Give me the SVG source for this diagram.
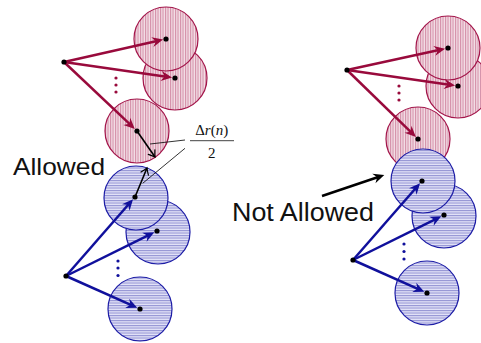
<svg xmlns="http://www.w3.org/2000/svg" width="481" height="343" viewBox="0 0 481 343">
<defs>
<pattern id="vred" patternUnits="userSpaceOnUse" width="2.5" height="4">
<rect width="2.5" height="4" fill="#f3e0e7"/>
<rect x="0" width="1.1" height="4" fill="#d48ea8"/>
</pattern>
<pattern id="hblue" patternUnits="userSpaceOnUse" width="4" height="2.5">
<rect width="4" height="2.5" fill="#e4e4f8"/>
<rect y="0" width="4" height="1.1" fill="#9494d4"/>
</pattern>
<marker id="hr" markerUnits="userSpaceOnUse" viewBox="-12 -6 14 12" markerWidth="14" markerHeight="12" refX="-4" refY="0" orient="auto">
<path d="M0,0 L-11,-5 L-7.5,0 L-11,5 Z" fill="#990a3c"/>
</marker>
<marker id="hb" markerUnits="userSpaceOnUse" viewBox="-12 -6 14 12" markerWidth="14" markerHeight="12" refX="-4" refY="0" orient="auto">
<path d="M0,0 L-11,-5 L-7.5,0 L-11,5 Z" fill="#10109c"/>
</marker>
<marker id="hk" markerUnits="userSpaceOnUse" viewBox="-12 -6 14 12" markerWidth="14" markerHeight="12" refX="-4" refY="0" orient="auto">
<path d="M0,0 L-11,-5 L-7.5,0 L-11,5 Z" fill="#000"/>
</marker>
<marker id="ho" markerUnits="userSpaceOnUse" viewBox="-8 -6 10 12" markerWidth="10" markerHeight="12" refX="0" refY="0" orient="auto">
<path d="M-6,-4 Q-2,-1 0,0 Q-2,1 -6,4" fill="none" stroke="#000" stroke-width="1.2" stroke-linecap="round"/>
</marker>
</defs>
<style>
.rc{fill:url(#vred);stroke:#a3154a;stroke-width:1.2}
.bc{fill:url(#hblue);stroke:#1c1ca6;stroke-width:1.2}
.ra{stroke:#990a3c;stroke-width:2.5;fill:none;marker-end:url(#hr)}
.ba{stroke:#10109c;stroke-width:2.5;fill:none;marker-end:url(#hb)}
.dot{fill:#000}
.rd{fill:#990a3c}
.bd{fill:#10109c}
.lbl{font-family:"Liberation Sans",Arial,sans-serif;fill:#111}
.math{font-family:"Liberation Serif","Times New Roman",serif;font-size:15px;fill:#111}
.lead{stroke:#000;stroke-width:0.8;fill:none}
</style>

<g id="left-red-circles">
<circle class="rc" cx="175" cy="78" r="32"/>
<circle class="rc" cx="166" cy="39" r="32"/>
<circle class="rc" cx="137" cy="131" r="32"/>
</g>
<g id="left-blue-circles">
<circle class="bc" cx="158" cy="232" r="32"/>
<circle class="bc" cx="136" cy="198" r="32"/>
<circle class="bc" cx="140" cy="309" r="32"/>
</g>
<g id="right-red-circles">
<circle class="rc" cx="458" cy="86" r="32"/>
<circle class="rc" cx="448" cy="48" r="32"/>
<circle class="rc" cx="418" cy="139" r="32"/>
</g>
<g id="right-blue-circles">
<circle class="bc" cx="444" cy="216" r="32"/>
<circle class="bc" cx="423" cy="181" r="32"/>
<circle class="bc" cx="427" cy="293" r="32"/>
</g>

<g id="connectors">
<line class="ra" x1="64" y1="62" x2="159.2" y2="40.5"/>
<line class="ra" x1="64" y1="62" x2="168.1" y2="77"/>
<line class="ra" x1="64" y1="62" x2="131.9" y2="126.2"/>
<line class="ba" x1="66" y1="276" x2="130.4" y2="202.3"/>
<line class="ba" x1="66" y1="276" x2="150.7" y2="234.1"/>
<line class="ba" x1="66" y1="276" x2="133.6" y2="306.2"/>
<line class="ra" x1="347" y1="70" x2="441.2" y2="49.5"/>
<line class="ra" x1="347" y1="70" x2="451.1" y2="85"/>
<line class="ra" x1="347" y1="70" x2="413" y2="134.1"/>
<line class="ba" x1="353" y1="260" x2="417.4" y2="186.3"/>
<line class="ba" x1="353" y1="260" x2="437.7" y2="218.1"/>
<line class="ba" x1="353" y1="260" x2="420.6" y2="290.2"/>
<line x1="137" y1="131" x2="155" y2="157" stroke="#000" stroke-width="1.6" marker-end="url(#ho)"/>
<line x1="135" y1="197" x2="147" y2="168" stroke="#000" stroke-width="1.6" marker-end="url(#ho)"/>
<line class="lead" x1="150" y1="144" x2="185" y2="140"/>
<line class="lead" x1="142.7" y1="183.3" x2="185" y2="148.3"/>
<line x1="322" y1="196" x2="380.5" y2="176.2" stroke="#000" stroke-width="2.5" marker-end="url(#hk)"/>
</g>

<g id="dots">
<circle class="dot" cx="64" cy="62" r="2.6"/>
<circle class="dot" cx="166" cy="39" r="2.6"/>
<circle class="dot" cx="175" cy="78" r="2.6"/>
<circle class="dot" cx="137" cy="131" r="2.6"/>
<circle class="dot" cx="66" cy="276" r="2.6"/>
<circle class="dot" cx="135" cy="197" r="2.6"/>
<circle class="dot" cx="157" cy="231" r="2.6"/>
<circle class="dot" cx="140" cy="309" r="2.6"/>
<circle class="dot" cx="347" cy="70" r="2.6"/>
<circle class="dot" cx="448" cy="48" r="2.6"/>
<circle class="dot" cx="458" cy="86" r="2.6"/>
<circle class="dot" cx="418" cy="139" r="2.6"/>
<circle class="dot" cx="353" cy="260" r="2.6"/>
<circle class="dot" cx="422" cy="181" r="2.6"/>
<circle class="dot" cx="444" cy="215" r="2.6"/>
<circle class="dot" cx="427" cy="293" r="2.6"/>
<circle class="rd" cx="116" cy="78" r="1.6"/>
<circle class="rd" cx="116" cy="85" r="1.6"/>
<circle class="rd" cx="116" cy="92" r="1.6"/>
<circle class="bd" cx="118" cy="261" r="1.6"/>
<circle class="bd" cx="118" cy="268" r="1.6"/>
<circle class="bd" cx="118" cy="275.5" r="1.6"/>
<circle class="rd" cx="399" cy="86" r="1.6"/>
<circle class="rd" cx="399" cy="93" r="1.6"/>
<circle class="rd" cx="399" cy="100" r="1.6"/>
<circle class="bd" cx="404" cy="244" r="1.6"/>
<circle class="bd" cx="404" cy="251.5" r="1.6"/>
<circle class="bd" cx="404" cy="259" r="1.6"/>
</g>

<g id="labels">
<text class="lbl" x="13" y="175" font-size="24" textLength="92" lengthAdjust="spacingAndGlyphs">Allowed</text>
<text class="lbl" x="232" y="221" font-size="25" textLength="142" lengthAdjust="spacingAndGlyphs">Not Allowed</text>
<text class="math" x="211.7" y="135" text-anchor="middle">Δ<tspan font-style="italic">r</tspan>(<tspan font-style="italic">n</tspan>)</text>
<line x1="190" y1="140.7" x2="234" y2="140.7" stroke="#111" stroke-width="0.8"/>
<text class="math" x="211.7" y="157.5" text-anchor="middle">2</text>
</g>
</svg>
